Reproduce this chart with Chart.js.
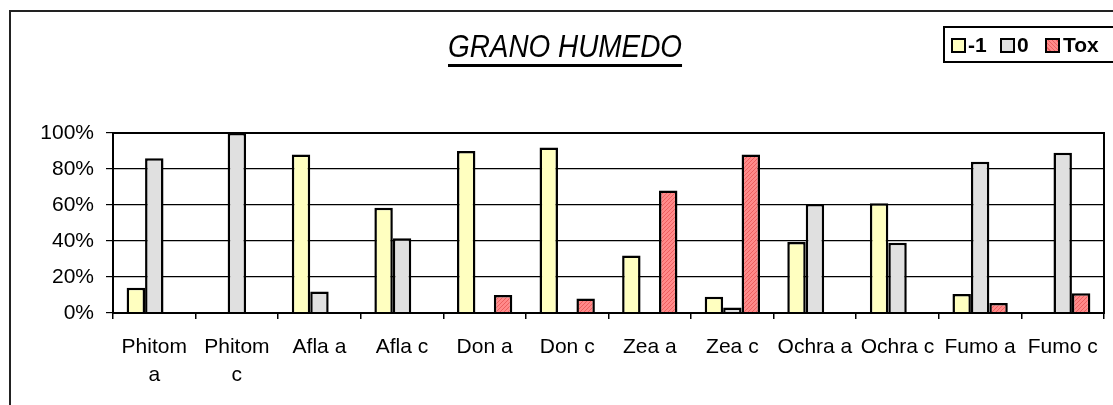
<!DOCTYPE html>
<html>
<head>
<meta charset="utf-8">
<script src="https://cdn.jsdelivr.net/npm/chart.js@4.4.1/dist/chart.umd.min.js"></script>
<style>
    html, body { margin: 0; padding: 0; background: #fff; overflow: hidden; }
    #wrap { position: relative; width: 1113px; height: 405px; font-family: 'Liberation Sans', Arial, sans-serif; }
    #frame { position: absolute; left: 9px; top: 10px; width: 1200px; height: 500px; border: 2px solid #222; }
    #chart { position: absolute; left: 0; top: 0; }
    #title {
        position: absolute; left: 565px; top: 31px; white-space: nowrap;
        font-size: 31px; line-height: 31px; font-style: italic; color: #000;
        text-decoration: underline; text-decoration-thickness: 3px; text-underline-offset: 7px;
        transform: translateX(-50%) scaleX(0.9);
    }
    #legend { position: absolute; left: 943px; top: 26px; width: 200px; height: 33px; border: 2px solid #000; }
    #legend .sw { position: absolute; top: 10px; width: 11px; height: 11px; border: 2px solid #000; }
    #legend .lb { position: absolute; top: 6px; font-size: 21px; line-height: 21px; font-weight: bold; color: #000; }
</style>
</head>
<body>
<div id="wrap">
    <div id="frame"></div>
    <canvas id="chart" width="1113" height="405"></canvas>
    <div id="title">GRANO HUMEDO</div>
    <div id="legend"></div>
</div>
<script>
const categories = [['Phitom', 'a'], ['Phitom', 'c'], 'Afla a', 'Afla c', 'Don a', 'Don c',
    'Zea a', 'Zea c', 'Ochra a', 'Ochra c', 'Fumo a', 'Fumo c'];
const seriesNames = ['-1', '0', 'Tox'];
const minusOne = [14, null, 88, 58.5, 90, 92, 32, 9, 39.5, 61, 10.5, null];
const zero = [86, 100, 12, 41.5, null, null, null, 3, 60.5, 39, 84, 89];
const tox = [null, null, null, null, 10, 8, 68, 88, null, null, 5.5, 11];
const yTicks = [0, 20, 40, 60, 80, 100];

// hatched red fill like the excel pattern
function toxPattern() {
    const c = document.createElement('canvas');
    c.width = 4; c.height = 4;
    const g = c.getContext('2d');
    g.fillStyle = '#ff8a8a';
    g.fillRect(0, 0, 4, 4);
    g.fillStyle = '#ec5f5f';
    for (let i = 0; i < 4; i++) g.fillRect(i, 3 - i, 1, 1);
    return g.createPattern(c, 'repeat');
}

const fills = ['#ffffc0', '#e0e0e0', toxPattern()];
const legendFills = ['#ffffc0', '#e0e0e0', 'repeating-linear-gradient(45deg, #ff8a8a 0 2px, #ec5f5f 2px 3px)'];

// legend in html
const legendEl = document.getElementById('legend');
const swLeft = [6, 55, 100];
const lbLeft = [23, 72, 118];
seriesNames.forEach((name, i) => {
    legendEl.innerHTML += `<div class="sw" style="left:${swLeft[i]}px;background:${legendFills[i]}"></div>` +
        `<div class="lb" style="left:${lbLeft[i]}px">${name}</div>`;
});

const plotBorder = {
    id: 'plotBorder',
    afterDraw(chart) {
        const a = chart.chartArea, ctx = chart.ctx;
        ctx.save();
        ctx.strokeStyle = '#000';
        ctx.lineWidth = 2;
        ctx.strokeRect(a.left, a.top, a.right - a.left, a.bottom - a.top);
        ctx.restore();
    }
};

const font = { family: "'Liberation Sans', Arial, sans-serif", size: 21, lineHeight: 1.3 };

new Chart(document.getElementById('chart').getContext('2d'), {
    type: 'bar',
    data: {
        labels: categories,
        datasets: [minusOne, zero, tox].map((d, i) => ({
            label: seriesNames[i],
            data: d,
            backgroundColor: fills[i],
            borderColor: '#000',
            borderWidth: 2.5,
            categoryPercentage: 0.67,
            barPercentage: 1
        }))
    },
    options: {
        responsive: false,
        animation: false,
        events: [],
        layout: { padding: { left: 0, top: 133, right: 7, bottom: 0 } },
        plugins: { legend: { display: false }, title: { display: false }, tooltip: { enabled: false } },
        scales: {
            x: {
                grid: { drawOnChartArea: false, drawTicks: true, tickLength: 6, color: '#000', lineWidth: 1.5, offset: true },
                border: { color: '#000', width: 2 },
                ticks: { color: '#000', font: font, padding: 15, maxRotation: 0, autoSkip: false },
                afterFit(scale) { scale.height = 92; }
            },
            y: {
                min: 0,
                max: 100,
                afterBuildTicks(scale) { scale.ticks = yTicks.map(v => ({ value: v })); },
                grid: { color: '#000', lineWidth: 1.2, tickLength: 7 },
                border: { color: '#000', width: 2 },
                ticks: { color: '#000', font: font, padding: 12, callback: v => v + '%' },
                afterFit(scale) { scale.width = 113; }
            }
        }
    },
    plugins: [plotBorder]
});
</script>
</body>
</html>
